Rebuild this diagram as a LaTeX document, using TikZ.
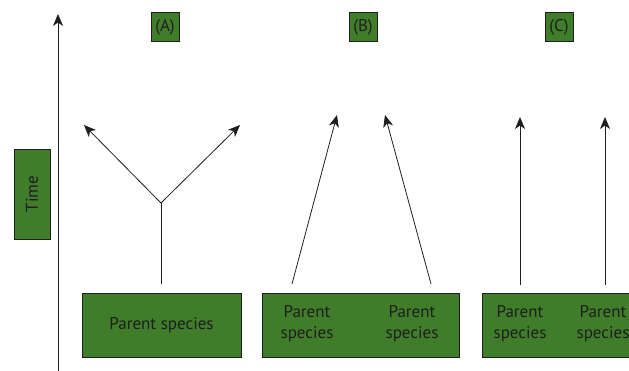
\documentclass[tikz,border=0pt]{standalone}
\usepackage{fontspec}
\setmainfont{PT Sans}
\usepackage{xcolor}
\usetikzlibrary{arrows.meta,positioning}
\definecolor{leafgreen}{RGB}{64,125,42}
\definecolor{inkdark}{RGB}{30,30,30}

\begin{document}
\begin{tikzpicture}[
  x=1pt, y=-1pt,
  box/.style={draw=inkdark, fill=leafgreen, line width=0.7pt, inner sep=0pt},
  txt/.style={text=inkdark, font=\fontsize{17}{21}\selectfont, align=center},
  line/.style={-{Stealth[length=12pt,width=10pt,inset=3.5pt]}, line width=0.8pt, draw=inkdark}
]
\clip (0,0) rectangle (629,371);

% time axis
\coordinate (tbot) at (58,371);
\coordinate (ttop) at (58,14);
\draw[line] (tbot) -- (ttop);
\node[box, minimum width=36pt, minimum height=90pt] (timebox) at (32,194) {};
\node[txt, rotate=90] (timetxt) at (timebox.center) {Time};

% panel tags
\node[box, txt, minimum width=28pt, minimum height=29pt] (tagA) at (165,27) {(A)};
\node[box, txt, minimum width=28pt, minimum height=29pt] (tagB) at (363,27) {(B)};
\node[box, txt, minimum width=28pt, minimum height=29pt] (tagC) at (559,27) {(C)};

% (A) one parent species splitting
\node[box, txt, minimum width=159pt, minimum height=64pt] (parA) at (161.5,325) {Parent species};
\coordinate (stemA) at (161,284);
\coordinate (forkA) at (161,203);
\coordinate (leftA) at (84,125);
\coordinate (rightA) at (240,125);
\draw[line, -] (stemA) -- (forkA);
\draw[line] (forkA) -- (leftA);
\draw[line] (forkA) -- (rightA);

% (B) two parent species converging
\node[box, minimum width=197pt, minimum height=64pt] (parB) at (360.5,325) {};
\node[txt] (parB1) at (307,324) {Parent\\species};
\node[txt] (parB2) at (412,324) {Parent\\species};
\coordinate (startB1) at (292,284);
\coordinate (endB1) at (337,115);
\coordinate (startB2) at (431,284);
\coordinate (endB2) at (385,115);
\draw[line] (startB1) -- (endB1);
\draw[line] (startB2) -- (endB2);

% (C) two parent species in parallel
\node[box, minimum width=197pt, minimum height=64pt] (parC) at (580.5,325) {};
\node[txt] (parC1) at (520,324) {Parent\\species};
\node[txt] (parC2) at (603,324) {Parent\\species};
\coordinate (startC1) at (520,285);
\coordinate (endC1) at (520,117);
\coordinate (startC2) at (605,285);
\coordinate (endC2) at (605,117);
\draw[line] (startC1) -- (endC1);
\draw[line] (startC2) -- (endC2);
\end{tikzpicture}
\end{document}
